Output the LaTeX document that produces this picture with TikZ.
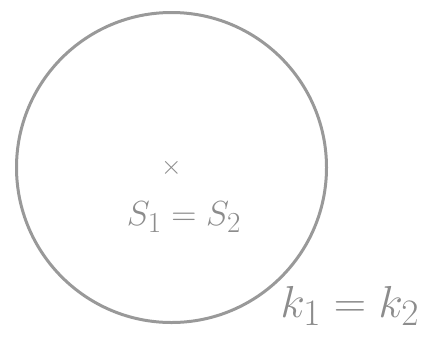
\documentclass[tikz,border=0pt]{standalone}
\usepackage{tikz}
\usepackage{graphicx}
\usetikzlibrary{positioning}

\begin{document}
\begin{tikzpicture}[
    x=1pt, y=-1pt,
    pencil/.style={draw=black!40, line width=3pt},
    hand/.style={text=black!45, inner sep=0pt, font=\Huge}
  ]
    \useasboundingbox (0,0) rectangle (427,338);
    \coordinate (centre) at (171.5,167.5);
    \draw[pencil] (centre) circle[radius=155];
    \node[hand, font=\large] (mark) at (centre) {\scalebox{2.2}{$\times$}};
    \node[hand] (spheres) at (184,217) {\scalebox{1.4}{$S_1 = S_2$}};
    \node[hand] (curvatures) at (350,306) {\scalebox{1.8}{$k_1 = k_2$}};
  \end{tikzpicture}
\end{document}
